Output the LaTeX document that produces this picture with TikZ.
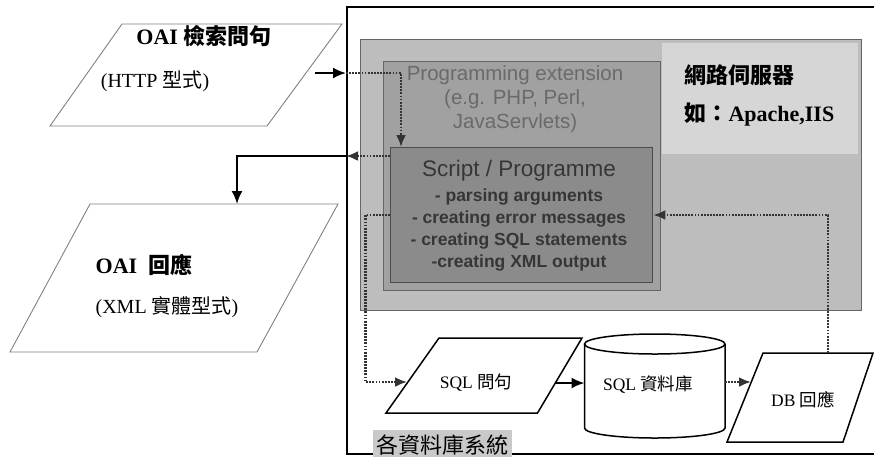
\documentclass[tikz,border=0pt]{standalone}
\usepackage{fontspec}
\setmainfont{Liberation Serif}
\setsansfont{Liberation Sans}
\newfontfamily\cjk{Noto Sans CJK TC}
\usepackage{xcolor}
\usepackage{tikz}
\usetikzlibrary{arrows.meta}

\definecolor{webgray}{HTML}{BDBDBD}
\definecolor{weblight}{HTML}{D6D6D6}
\definecolor{extgray}{HTML}{A1A1A1}
\definecolor{scriptgray}{HTML}{8B8B8B}
\definecolor{exttext}{HTML}{6A6A6A}
\definecolor{scripttext}{HTML}{363636}
\definecolor{dotline}{HTML}{333333}
\definecolor{labelgray}{HTML}{C9C9C9}

\begin{document}
\begin{tikzpicture}[x=1pt, y=-1pt,
    sysbox/.style={draw=black, line width=1.6pt, inner sep=0pt},
    webbox/.style={draw=gray!80!black, fill=webgray, line width=1pt, inner sep=0pt},
    extbox/.style={draw=black!60, fill=extgray, line width=1.3pt, inner sep=0pt},
    scriptbox/.style={draw=black!70, fill=scriptgray, line width=1.3pt, inner sep=0pt},
    iobox/.style={draw=gray, line width=0.9pt},
    sqlbox/.style={draw=black, line width=1.5pt},
    solidarrow/.style={line width=2pt, -{Latex[length=13pt,width=11pt]}},
    dotarrow/.style={dotline, line width=2.3pt, dash pattern=on 1.8pt off 1.3pt, -{Latex[length=12pt,width=10pt]}},
    big/.style={font=\fontsize{22}{26}\selectfont},
    mid/.style={font=\fontsize{20}{24}\selectfont},
    small/.style={font=\fontsize{17.5}{21}\selectfont}]

\useasboundingbox (0,0) rectangle (874,456);
\clip (0,0) rectangle (874,456);

% database systems frame and web server
\node[sysbox, anchor=north west, minimum width=540, minimum height=447] (dbsys) at (346,6) {};
\node[webbox, anchor=north west, minimum width=501, minimum height=271.5] (web) at (360,38.5) {};
\fill[weblight] (662,43) rectangle (858,154);
\node[extbox, anchor=north west, minimum width=277.4, minimum height=229.4] (ext) at (382.6,60.6) {};
\node[scriptbox, anchor=north west, minimum width=262, minimum height=134.6] (script) at (390,147) {};

\node[exttext, align=center, font=\sffamily\fontsize{20.5}{24}\selectfont] (exttxt) at (515,99)
    {Programming extension\\(e.g. PHP, Perl,\\JavaServlets)};
\node[scripttext, font=\sffamily\fontsize{22.5}{26}\selectfont] (scripttitle) at (519,171) {Script / Programme};
\node[scripttext, align=center, font=\sffamily\bfseries\fontsize{17.5}{22.3}\selectfont] (scriptitems) at (519,230)
    {- parsing arguments\\- creating error messages\\- creating SQL statements\\-creating XML output};

\node[big, anchor=west] (webname) at (681,75) {\cjk\bfseries 網路伺服器};
\node[big, anchor=west] (webeg) at (681,114) {\bfseries{\cjk 如：}Apache,IIS};

% OAI query and response
\draw[iobox] (122,24) -- (342,24) -- (267,126) -- (50,126) -- cycle;
\node[big] (qtitle) at (204,36) {\bfseries OAI {\cjk 檢索問句}};
\node[mid] (qsub) at (155,81) {(HTTP {\cjk 型式})};

\draw[iobox] (90,204) -- (338,204) -- (257,352) -- (10,352) -- cycle;
\node[big] (rtitle) at (144,265) {\bfseries OAI\enspace{\cjk 回應}};
\node[mid] (rsub) at (167,307) {(XML {\cjk 實體型式})};

% SQL query, database, DB response
\draw[sqlbox] (439,338) -- (582,338) -- (537.5,413) -- (386,413) -- cycle;
\node[small] (sqlq) at (476,383) {SQL {\cjk 問句}};

\draw[sqlbox, fill=white] (584.5,344) -- (584.5,428) arc[start angle=180, end angle=360, x radius=70.25pt, y radius=10pt] -- (725,344);
\draw[sqlbox] (654.75,344) ellipse [x radius=70.25pt, y radius=10pt];
\node[small] (sqldb) at (648,385) {SQL {\cjk 資料庫}};

\draw[sqlbox] (763,353) -- (873,353) -- (843,442) -- (727,442) -- cycle;
\node[small] (dbres) at (803,400) {DB {\cjk 回應}};

\node[fill=labelgray, anchor=north west, minimum width=139, minimum height=30, inner sep=0pt, big] (syslabel) at (373,430) {\cjk 各資料庫系統};

% connectors
\coordinate (qout) at (315,73);
\coordinate (extin) at (401,73);
\coordinate (ret) at (390,156);
\coordinate (respin) at (237,204);
\coordinate (toq) at (365.5,215);
\coordinate (sqlqin) at (407,382);
\coordinate (sqlqout) at (555,383);
\coordinate (dbin) at (584.5,383);
\coordinate (dbout) at (725,382);
\coordinate (resin) at (751,382);
\coordinate (resup) at (828,353);

\draw[solidarrow] (qout) -- (dbsys.west |- qout);
\draw[dotarrow] (dbsys.west |- qout) -- (extin) -- (extin |- script.north);
\draw[dotarrow] (ret) -- (dbsys.west |- ret);
\draw[solidarrow] (dbsys.west |- ret) -- (respin |- ret) -- (respin);
\draw[dotarrow] (script.west |- toq) -- (toq) -- (toq |- sqlqin) -- (sqlqin);
\draw[solidarrow] (sqlqout) -- (dbin);
\draw[dotarrow] (dbout) -- (resin);
\draw[dotarrow] (resup) -- (resup |- toq) -- (script.east |- toq);

\end{tikzpicture}
\end{document}
